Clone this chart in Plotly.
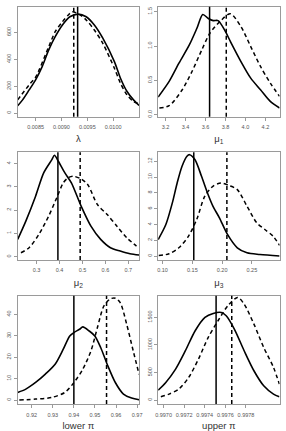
import plotly.graph_objects as go

# ---------------- data ----------------
lam_x_solid = [0.008153, 0.008248, 0.008375, 0.0085, 0.008627, 0.008754, 0.008879, 0.009019,
               0.009163, 0.009322, 0.009479, 0.009636, 0.0098, 0.010024, 0.010142, 0.010269,
               0.010394, 0.010502]
lam_y_solid = [54, 98, 172, 247, 345, 469, 567, 654, 715, 735, 715, 654, 556, 382, 259, 160, 98, 56]
lam_x_dash = [0.008153, 0.008375, 0.0085, 0.008754, 0.008879, 0.009019, 0.009132, 0.009208,
              0.009366, 0.009493, 0.009636, 0.0098, 0.010024, 0.010142, 0.010269, 0.010394, 0.010502]
lam_y_dash = [98, 210, 267, 493, 604, 678, 728, 752, 728, 686, 617, 518, 333, 222, 135, 86, 69]
lam_lines = [0.009313, 0.009238]          # solid, dashed

mu1_x_solid = [3.126, 3.236, 3.334, 3.438, 3.514, 3.573, 3.628, 3.677, 3.726, 3.791, 3.85,
               3.955, 4.053, 4.151, 4.249, 4.342]
mu1_y_solid = [0.257, 0.484, 0.75, 1.016, 1.259, 1.46, 1.40, 1.37, 1.37, 1.234, 1.064,
               0.774, 0.532, 0.363, 0.193, 0.097]
mu1_x_dash = [3.138, 3.236, 3.367, 3.465, 3.563, 3.644, 3.759, 3.85, 3.955, 4.053, 4.151, 4.249, 4.342]
mu1_y_dash = [0.097, 0.131, 0.363, 0.629, 0.944, 1.186, 1.379, 1.47, 1.282, 0.992, 0.702, 0.46, 0.266]
mu1_lines = [3.641, 3.808]

mu2_x_solid = [0.2177, 0.2532, 0.2957, 0.331, 0.3667, 0.378, 0.395, 0.4234, 0.4518, 0.4943,
               0.5369, 0.5794, 0.622, 0.6645, 0.707, 0.7468]
mu2_y_solid = [0.743, 1.53, 2.6, 3.6, 4.17, 4.36, 4.1, 3.6, 3.17, 2.17, 1.31, 0.743, 0.386,
               0.243, 0.129, 0.071]
mu2_x_dash = [0.2319, 0.2674, 0.31, 0.3525, 0.388, 0.4163, 0.4376, 0.4589, 0.4943, 0.5227,
              0.5652, 0.6078, 0.6504, 0.6929, 0.7355]
mu2_y_dash = [0.171, 0.386, 0.957, 1.74, 2.53, 3.17, 3.39, 3.457, 3.34, 3.1, 2.24, 1.81, 1.31,
              0.814, 0.457]
mu2_lines = [0.393, 0.490]

mu3_x_solid = [0.0926, 0.1055, 0.1164, 0.1245, 0.1327, 0.1409, 0.1452, 0.1545, 0.1654, 0.1764,
               0.1845, 0.1955, 0.209, 0.2255, 0.2418, 0.2636, 0.2965]
mu3_y_solid = [2.1, 4.0, 6.74, 9.26, 11.37, 12.63, 12.84, 12.2, 10.1, 7.79, 6.32, 4.84, 2.74,
               1.05, 0.42, 0.21, 0.02]
mu3_x_dash = [0.0935, 0.1109, 0.1273, 0.1436, 0.1573, 0.1709, 0.1845, 0.1982, 0.2118, 0.2255,
              0.2418, 0.2582, 0.2718, 0.2855, 0.2965]
mu3_y_dash = [0.08, 0.29, 1.05, 2.53, 4.63, 7.58, 8.84, 9.26, 8.93, 8.42, 6.32, 4.21, 3.37, 2.53, 1.35]
mu3_lines = [0.1524, 0.208]

lo_x_solid = [0.91336, 0.91722, 0.92185, 0.92648, 0.93111, 0.93497, 0.93806, 0.94006, 0.94269,
              0.94423, 0.94731, 0.94994, 0.95272, 0.9558, 0.95966, 0.96352, 0.96738, 0.97093]
lo_y_solid = [3.57, 5.1, 8.2, 12.1, 16.7, 23.7, 29.9, 31.5, 33.0, 34.1, 32.2, 29.9, 24.5, 16.7,
              8.2, 2.8, 0.93, 0.16]
lo_x_dash = [0.91413, 0.92185, 0.92957, 0.93574, 0.94006, 0.94423, 0.9481, 0.95117, 0.95426,
             0.95735, 0.95966, 0.96198, 0.96506, 0.96815, 0.97093]
lo_y_dash = [0.0, 0.47, 1.24, 3.57, 8.2, 14.4, 22.9, 33.8, 43.9, 47.2, 47.5, 45.4, 35.3, 22.9, 12.0]
lo_lines = [0.9400, 0.9555]

up_x_solid = [0.996948, 0.997022, 0.997117, 0.997212, 0.997307, 0.997402, 0.997482, 0.997561,
              0.997608, 0.997687, 0.997782, 0.997877, 0.997972, 0.998067, 0.998124]
up_y_solid = [181, 320, 562, 895, 1258, 1499, 1572, 1590, 1530, 1288, 895, 532, 260, 109, 60]
up_x_dash = [0.996974, 0.997054, 0.997149, 0.997244, 0.997339, 0.997434, 0.997529, 0.997624,
             0.997719, 0.997782, 0.997877, 0.997972, 0.998067, 0.998124]
up_y_dash = [60, 109, 200, 411, 744, 1137, 1439, 1711, 1862, 1741, 1378, 955, 593, 290]
up_lines = [0.997510, 0.997662]

titles = ["λ", "μ<sub>1</sub>", "μ<sub>2</sub>", "μ<sub>3</sub>", "lower π", "upper π"]

x_ticks = [[0.0085, 0.0090, 0.0095, 0.0100], [3.2, 3.4, 3.6, 3.8, 4.0, 4.2],
           [0.3, 0.4, 0.5, 0.6, 0.7], [0.10, 0.15, 0.20, 0.25],
           [0.92, 0.93, 0.94, 0.95, 0.96, 0.97], [0.9970, 0.9972, 0.9974, 0.9976, 0.9978]]
x_ticktext = [["0.0085", "0.0090", "0.0095", "0.0100"], ["3.2", "3.4", "3.6", "3.8", "4.0", "4.2"],
              ["0.3", "0.4", "0.5", "0.6", "0.7"], ["0.10", "0.15", "0.20", "0.25"],
              ["0.92", "0.93", "0.94", "0.95", "0.96", "0.97"],
              ["0.9970", "0.9972", "0.9974", "0.9976", "0.9978"]]
y_ticks = [[0, 200, 400, 600], [0.0, 0.5, 1.0, 1.5], [0, 1, 2, 3, 4],
           [0, 2, 4, 6, 8, 10, 12], [0, 10, 20, 30, 40], [0, 500, 1000, 1500]]
y_ticktext = [["0", "200", "400", "600"], ["0.0", "0.5", "1.0", "1.5"], ["0", "1", "2", "3", "4"],
              ["0", "2", "4", "6", "8", "10", "12"], ["0", "10", "20", "30", "40"],
              ["0", "500", "1000", "1500"]]

x_ranges = [[0.008153, 0.010502], [3.126, 4.342], [0.2177, 0.7468], [0.0926, 0.2965],
            [0.91336, 0.97093], [0.996948, 0.998126]]
y_ranges = [[-27, 790], [-0.03, 1.573], [-0.137, 4.49], [-0.48, 13.16], [-1.86, 48.6], [-72, 1891]]

panels = [
    (lam_x_solid, lam_y_solid, lam_x_dash, lam_y_dash, lam_lines),
    (mu1_x_solid, mu1_y_solid, mu1_x_dash, mu1_y_dash, mu1_lines),
    (mu2_x_solid, mu2_y_solid, mu2_x_dash, mu2_y_dash, mu2_lines),
    (mu3_x_solid, mu3_y_solid, mu3_x_dash, mu3_y_dash, mu3_lines),
    (lo_x_solid, lo_y_solid, lo_x_dash, lo_y_dash, lo_lines),
    (up_x_solid, up_y_solid, up_x_dash, up_y_dash, up_lines),
]

# ---------------- layout geometry (pixels) ----------------
W, H = 286, 431
col_px = [(15, 139), (158.5, 282.5)]
row_px = [(6.7, 117), (152.5, 260.5), (296.5, 405)]

FONT = "Liberation Sans, Arial, sans-serif"
BOX = "#9a9a9a"

fig = go.Figure()
layout = dict(width=W, height=H, margin=dict(l=0, r=0, t=0, b=0),
              paper_bgcolor="white", plot_bgcolor="white", showlegend=False,
              font=dict(family=FONT, color="#333"), shapes=[])

for i, (xs, ys, xd, yd, vl) in enumerate(panels):
    r, c = divmod(i, 2)
    n = "" if i == 0 else str(i + 1)
    xa, ya = "x" + n, "y" + n
    fig.add_trace(go.Scatter(x=xs, y=ys, mode="lines", xaxis=xa, yaxis=ya,
                             line=dict(color="black", width=1.6, shape="spline", smoothing=0.8)))
    fig.add_trace(go.Scatter(x=xd, y=yd, mode="lines", xaxis=xa, yaxis=ya,
                             line=dict(color="black", width=1.5, dash="4px,3px",
                                       shape="spline", smoothing=0.8)))
    x0, x1 = col_px[c]
    t, b = row_px[r]
    layout["xaxis" + n] = dict(domain=[x0 / W, x1 / W], range=x_ranges[i], anchor=ya,
                               showline=True, mirror=True, linecolor=BOX, linewidth=1,
                               ticks="outside", ticklen=3, tickcolor=BOX, tickwidth=1,
                               tickmode="array", tickvals=x_ticks[i], ticktext=x_ticktext[i],
                               tickfont=dict(size=5.5, color="#555"), ticklabelstandoff=2,
                               title=dict(text=titles[i], standoff=6,
                                          font=dict(size=9.5, color="#333", family=FONT)),
                               showgrid=False, zeroline=False)
    layout["yaxis" + n] = dict(domain=[1 - b / H, 1 - t / H], range=y_ranges[i], anchor=xa,
                               showline=True, mirror=True, linecolor=BOX, linewidth=1,
                               ticks="outside", ticklen=3, tickcolor=BOX, tickwidth=1,
                               tickmode="array", tickvals=y_ticks[i], ticktext=y_ticktext[i],
                               tickangle=-90, tickfont=dict(size=5.5, color="#555"),
                               showgrid=False, zeroline=False)
    # vertical reference lines: solid then dashed
    for v, dash in zip(vl, ["solid", "4px,3px"]):
        layout["shapes"].append(dict(type="line", xref=xa, yref=ya + " domain", x0=v, x1=v,
                                     y0=0, y1=1, line=dict(color="black", width=1.5, dash=dash)))

fig.update_layout(**layout)
fig.write_html("out.html")
